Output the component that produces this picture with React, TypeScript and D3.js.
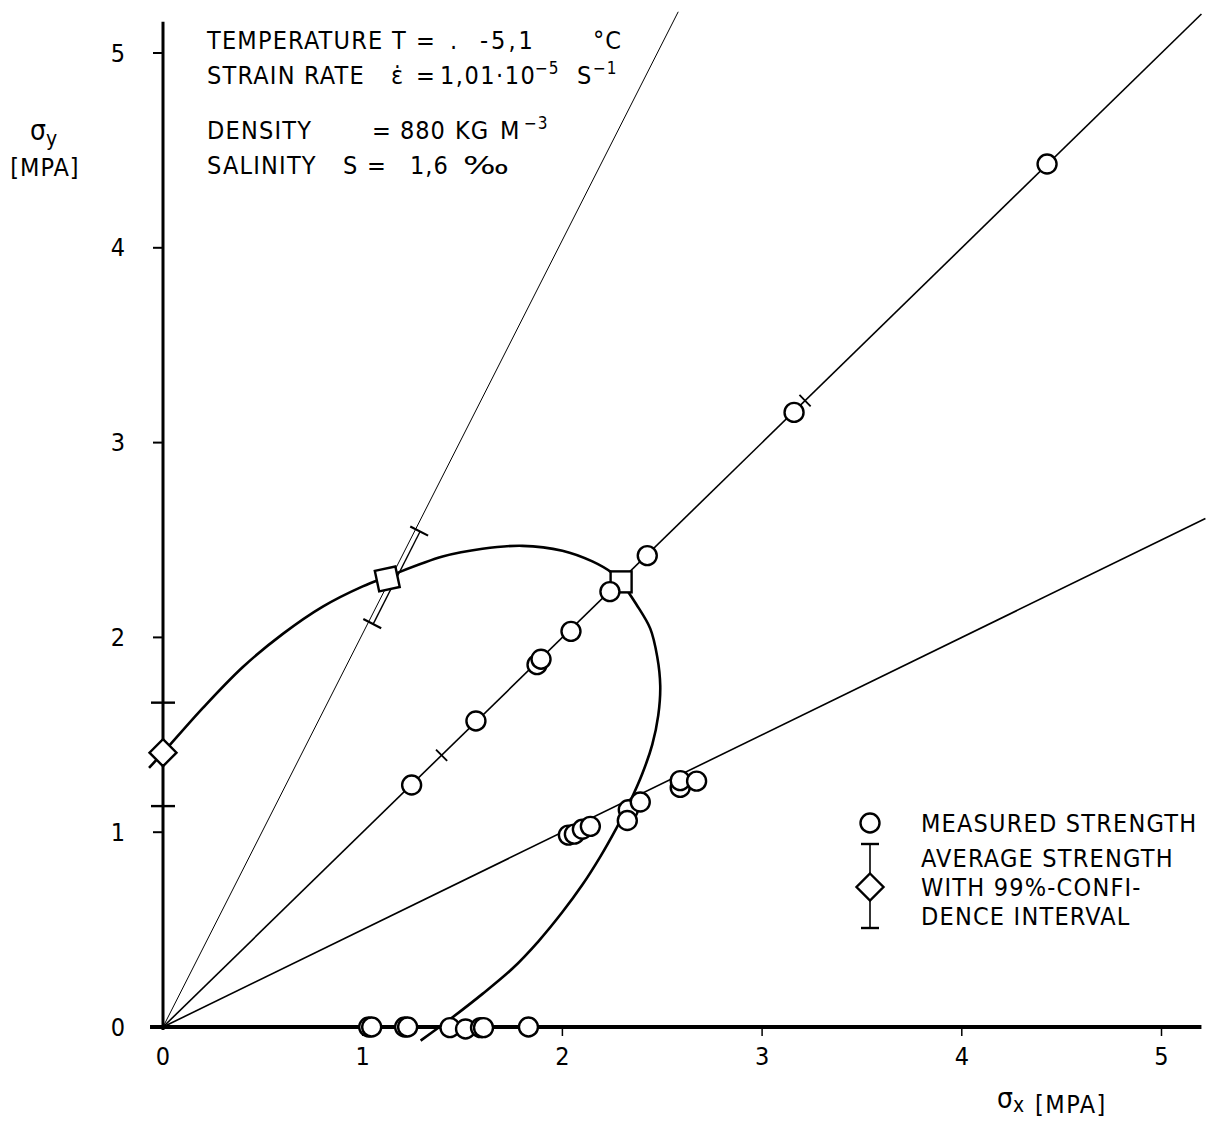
import React from 'react';
import * as d3 from 'd3';

// ---- data ----
const xTicks = [0, 1, 2, 3, 4, 5];
const yTicks = [0, 1, 2, 3, 4, 5];

// radial load paths (sigma_y / sigma_x) and where they end (sigma_x)
const raySlopes = [2.02, 1, 0.5];
const rayEndX = [2.58, 5.2, 5.22];

// measured strength on the biaxial path sigma_y = sigma_x
const diagX = [1.245, 1.567, 1.873, 1.893, 2.043, 2.238, 2.425, 3.16, 4.427];
const diagY = [1.242, 1.571, 1.86, 1.888, 2.031, 2.235, 2.42, 3.155, 4.43];

// measured strength on the path sigma_y = 0.5 sigma_x
const halfX = [2.03, 2.06, 2.1, 2.14, 2.33, 2.325, 2.39, 2.59, 2.59, 2.672];
const halfY = [0.985, 0.99, 1.015, 1.03, 1.115, 1.06, 1.155, 1.23, 1.265, 1.262];

// measured uniaxial strength (sigma_y = 0)
const uniX = [1.03, 1.045, 1.21, 1.225, 1.437, 1.515, 1.59, 1.605, 1.83];
const uniY = [0, 0, 0, 0, -0.003, -0.01, -0.003, -0.003, 0];

// average strengths
const avgX = [0, 1.123, 2.294];
const avgY = [1.408, 2.3, 2.285];
const avgKind = ['diamond', 'square', 'square'];

// 99% confidence intervals (low / high points)
const ciLoX = [0, 1.03, 1.395];
const ciLoY = [1.134, 2.08, 1.395];
const ciHiX = [0, 1.265, 3.215];
const ciHiY = [1.665, 2.555, 3.215];

// fitted failure envelope
const envX = [-0.07, 0, 0.2, 0.4, 0.6, 0.8, 1.0, 1.12, 1.4, 1.6, 1.8, 2.0, 2.15, 2.25, 2.3, 2.37, 2.44, 2.475, 2.49, 2.48, 2.45, 2.4, 2.34, 2.27, 2.19, 2.1, 2.0, 1.88, 1.75, 1.6, 1.45, 1.29];
const envY = [1.33, 1.408, 1.638, 1.848, 2.018, 2.158, 2.262, 2.31, 2.415, 2.455, 2.47, 2.445, 2.39, 2.33, 2.275, 2.17, 2.045, 1.9, 1.75, 1.6, 1.45, 1.3, 1.16, 1.02, 0.875, 0.73, 0.59, 0.44, 0.3, 0.17, 0.05, -0.07];

const legendLabels = ['MEASURED STRENGTH', 'AVERAGE STRENGTH', 'WITH 99%-CONFI-', 'DENCE INTERVAL'];

const FONT = '"DejaVu Sans Condensed", "DejaVu Sans", sans-serif';

export default function App() {
  const W = 1207;
  const H = 1121;
  const x = d3.scaleLinear().domain([0, 5]).range([163, 1161.5]);
  const y = d3.scaleLinear().domain([0, 5]).range([1027, 53]);

  const env = envX.map((v, i) => [v, envY[i]] as [number, number]);
  const envPath = d3
    .line<[number, number]>()
    .x((d) => x(d[0]))
    .y((d) => y(d[1]))
    .curve(d3.curveCatmullRom.alpha(0.5))(env) as string;

  const rayW = [1, 1.6, 1.6];

  const circle = (cx: number, cy: number, key: string) => (
    <circle key={key} cx={cx} cy={cy} r={9.5} fill="#fff" stroke="#000" strokeWidth={2.4} />
  );

  const perp = (x1: number, y1: number, x2: number, y2: number) => {
    const dx = x2 - x1;
    const dy = y2 - y1;
    const L = Math.hypot(dx, dy) || 1;
    return [-dy / L, dx / L];
  };

  const ciEls: React.ReactNode[] = [];
  ciLoX.forEach((_, i) => {
    const x1 = x(ciLoX[i]);
    const y1 = y(ciLoY[i]);
    const x2 = x(ciHiX[i]);
    const y2 = y(ciHiY[i]);
    const [nx, ny] = perp(x1, y1, x2, y2);
    if (i === 0) {
      [y1, y2].forEach((yy, j) =>
        ciEls.push(<line key={`c0${j}`} x1={x1 - 12} x2={x1 + 12} y1={yy} y2={yy} stroke="#000" strokeWidth={2.4} />)
      );
    } else if (i === 1) {
      const off = 5;
      ciEls.push(
        <line key="c1l" x1={x1 + nx * off} y1={y1 + ny * off} x2={x2 + nx * off} y2={y2 + ny * off} stroke="#000" strokeWidth={1.4} />
      );
      [[x1, y1], [x2, y2]].forEach(([px, py], j) =>
        ciEls.push(
          <line key={`c1${j}`} x1={px + nx * (off + 9)} y1={py + ny * (off + 9)} x2={px - nx * 6} y2={py - ny * 6} stroke="#000" strokeWidth={2.2} />
        )
      );
    } else {
      [[x1, y1], [x2, y2]].forEach(([px, py], j) =>
        ciEls.push(
          <line key={`c2${j}`} x1={px + nx * 8} y1={py + ny * 8} x2={px - nx * 8} y2={py - ny * 8} stroke="#000" strokeWidth={1.8} />
        )
      );
    }
  });

  const avgEls = avgX.map((v, i) => {
    const cx = x(v);
    const cy = y(avgY[i]);
    if (avgKind[i] === 'diamond') {
      const s = 13.5;
      return (
        <path key={`a${i}`} d={`M${cx},${cy - s}L${cx + s},${cy}L${cx},${cy + s}L${cx - s},${cy}Z`} fill="#fff" stroke="#000" strokeWidth={2.4} />
      );
    }
    const s = 10.5;
    const rot = i === 1 ? -12 : 0;
    return (
      <rect key={`a${i}`} x={cx - s} y={cy - s} width={2 * s} height={2 * s} fill="#fff" stroke="#000" strokeWidth={2.4} transform={`rotate(${rot},${cx},${cy})`} />
    );
  });

  const lx = 870;
  const pre = { whiteSpace: 'pre' as const };

  const seg = (s: React.ReactNode, x0: number, yb: number, ls = 0, key?: string) => (
    <text key={key} x={x0} y={yb} letterSpacing={ls}>
      {s}
    </text>
  );

  return (
    <svg width={W} height={H} style={{ position: 'absolute', left: 0, top: 0, background: '#fff' }} fontFamily={FONT}>
      <rect width={W} height={H} fill="#fff" />

      {/* radial load paths */}
      {raySlopes.map((s, i) => (
        <line key={`r${i}`} x1={x(0)} y1={y(0)} x2={x(rayEndX[i])} y2={y(rayEndX[i] * s)} stroke="#000" strokeWidth={rayW[i]} />
      ))}

      {/* envelope */}
      <path d={envPath} fill="none" stroke="#000" strokeWidth={2.6} />

      {/* axes */}
      <line x1={x(0)} x2={x(0)} y1={y(-0.015)} y2={y(5.16)} stroke="#000" strokeWidth={3} />
      <line x1={x(-0.065)} x2={x(5.2)} y1={y(0)} y2={y(0)} stroke="#000" strokeWidth={4} />
      {yTicks.slice(1).map((t) => (
        <line key={`yt${t}`} x1={x(0) - 10} x2={x(0)} y1={y(t)} y2={y(t)} stroke="#000" strokeWidth={2} />
      ))}
      {xTicks.slice(1).map((t) => (
        <line key={`xt${t}`} x1={x(t)} x2={x(t)} y1={y(0)} y2={y(0) + 9} stroke="#000" strokeWidth={1.5} />
      ))}
      {yTicks.map((t) => (
        <text key={`yl${t}`} x={118} y={y(t)} fontSize={25} textAnchor="middle" dominantBaseline="central">
          {t}
        </text>
      ))}
      {xTicks.map((t) => (
        <text key={`xl${t}`} x={x(t)} y={1056} fontSize={25} textAnchor="middle" dominantBaseline="central">
          {t}
        </text>
      ))}

      {/* axis titles */}
      <text x={30} y={140} fontSize={28}>
        σ<tspan fontSize={21} dy={6}>y</tspan>
      </text>
      <text x={45} y={176} fontSize={25} textAnchor="middle" letterSpacing={1}>[MPA]</text>
      <text x={997} y={1108} fontSize={28}>
        σ<tspan fontSize={21} dy={4}>x</tspan>
      </text>
      <text x={1035} y={1113} fontSize={25} letterSpacing={1.5}>[MPA]</text>

      {/* CIs and averages */}
      {ciEls}
      {avgEls}

      {/* measured points */}
      {diagX.map((v, i) => circle(x(v), y(diagY[i]), `d${i}`))}
      {halfX.map((v, i) => circle(x(v), y(halfY[i]), `h${i}`))}
      {uniX.map((v, i) => circle(x(v), y(uniY[i]), `u${i}`))}

      {/* info block */}
      <g fontSize={25} style={pre}>
        {seg('TEMPERATURE', 207, 49, 1.2, 't1')}
        {seg('T', 392, 49, 0, 't2')}
        {seg('=', 416, 49, 0, 't3')}
        {seg('.', 450, 49, 0, 't4')}
        {seg('-5,1', 480, 49, 3, 't5')}
        {seg('°C', 593, 49, 1, 't6')}

        {seg('STRAIN RATE', 207, 84, 1.2, 's1')}
        {seg('ε̇', 391, 84, 0, 's2')}
        {seg('=', 416, 84, 0, 's3')}
        {seg('1,01·10', 440, 84, 1.5, 's4')}
        <text x={535} y={74} fontSize={17} letterSpacing={1}>−5</text>
        {seg('S', 577, 84, 0, 's5')}
        <text x={593} y={74} fontSize={17} letterSpacing={1}>−1</text>

        {seg('DENSITY', 207, 139, 1.2, 'd1')}
        {seg('=', 372, 139, 0, 'd2')}
        {seg('880', 400, 139, 1, 'd3')}
        {seg('KG', 455, 139, 1, 'd4')}
        {seg('M', 500, 139, 0, 'd5')}
        <text x={524} y={129} fontSize={17} letterSpacing={1}>−3</text>

        {seg('SALINITY', 207, 174, 1.2, 'l1')}
        {seg('S', 343, 174, 0, 'l2')}
        {seg('=', 367, 174, 0, 'l3')}
        {seg('1,6', 410, 174, 1, 'l4')}
        <text x={463} y={174} textLength={46} lengthAdjust="spacingAndGlyphs">‰</text>
      </g>

      {/* legend */}
      <circle cx={lx} cy={823} r={9.5} fill="#fff" stroke="#000" strokeWidth={2.4} />
      <line x1={lx} x2={lx} y1={844} y2={928} stroke="#000" strokeWidth={1.6} />
      <line x1={lx - 9} x2={lx + 9} y1={844} y2={844} stroke="#000" strokeWidth={2.4} />
      <line x1={lx - 9} x2={lx + 9} y1={928} y2={928} stroke="#000" strokeWidth={2.4} />
      <path d={`M${lx},${887 - 13.5}L${lx + 13.5},887L${lx},${887 + 13.5}L${lx - 13.5},887Z`} fill="#fff" stroke="#000" strokeWidth={2.4} />
      <g fontSize={25} letterSpacing={1.2}>
        {legendLabels.map((l, i) => (
          <text key={l} x={921} y={[823, 858, 887, 916][i]} dominantBaseline="central">
            {l}
          </text>
        ))}
      </g>
    </svg>
  );
}
